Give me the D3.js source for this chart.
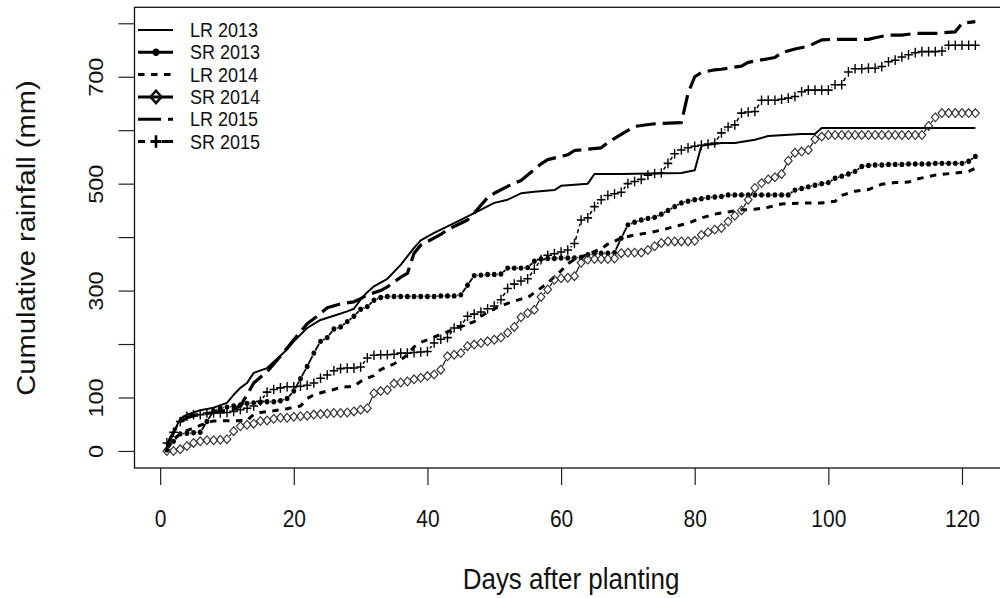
<!DOCTYPE html>
<html>
<head>
<meta charset="utf-8">
<script src="https://cdnjs.cloudflare.com/ajax/libs/d3/7.8.5/d3.min.js"></script>
<style>
  body { margin: 0; background: #fff; }
  svg { font-family: "Liberation Sans", Arial, sans-serif; }
</style>
</head>
<body>
<svg id="chart" width="1000" height="598"></svg>
<script>
// day index for the daily series
const days = d3.range(1, 123);

const xTicks = [0, 20, 40, 60, 80, 100, 120];
const yTicks = [0, 100, 200, 300, 400, 500, 600, 700, 800];
const yLabels = [0, 100, 300, 500, 700];

const seriesNames = ["LR 2013", "SR 2013", "LR 2014", "SR 2014", "LR 2015", "SR 2015"];

// long rains: [day, cumulative mm] at the points where the line bends
const lr2013 = [[1,8],[2,35],[3,60],[4,68],[6,76],[8,81],[10,90],[11,105],[12,118],[13,127],[14,146],[16,155],
  [18,178],[19,190],[20,205],[22,230],[24,245],[26,253],[28,261],[29,266],[30,283],[31,297],[32,308],[34,322],
  [36,348],[38,380],[39,394],[41,408],[44,426],[47,445],[50,464],[52,470],[54,482],[56,485],[59,488],[60,496],
  [64,500],[65,518],[69,518],[78,520],[80,525],[81,571],[84,576],[86,576],[89,582],[91,589],[96,593],[98,593],
  [99,604],[122,604]];

const lr2014 = [[1,5],[2,22],[3,32],[4,38],[5,43],[6,48],[7,53],[8,56],[13,57],[14,68],[15,72],[17,75],[19,79],
  [21,84],[22,98],[23,105],[25,112],[26,115],[27,119],[29,121],[30,130],[31,136],[32,141],[33,152],[35,163],
  [36,170],[37,180],[38,195],[39,203],[40,208],[42,218],[44,228],[46,237],[47,242],[48,252],[50,266],[52,276],
  [54,284],[55,287],[56,296],[58,314],[59,326],[60,337],[61,350],[62,358],[64,368],[66,378],[67,387],[69,398],
  [71,404],[73,408],[75,413],[77,420],[79,426],[81,436],[83,443],[85,447],[87,451],[89,452],[91,456],[93,462],
  [97,464],[99,464],[101,467],[102,478],[104,486],[106,489],[108,499],[110,502],[112,503],[113,508],[116,516],
  [119,520],[121,523],[122,529]];

const lr2015 = [[1,10],[2,35],[3,55],[4,62],[5,66],[7,70],[9,74],[11,78],[12,84],[13,105],[14,127],[15,138],
  [16,148],[18,177],[20,208],[22,238],[24,257],[25,268],[27,275],[29,279],[30,285],[31,292],[33,300],[34,307],
  [36,325],[37,332],[38,370],[39,385],[42,405],[43,414],[46,432],[47,445],[49,474],[50,482],[52,495],[54,506],
  [57,537],[58,545],[61,554],[62,562],[66,567],[67,577],[69,592],[71,607],[74,612],[78,614],[79,669],[80,700],
  [81,708],[83,713],[84,714],[87,720],[88,727],[92,736],[93,745],[95,752],[97,757],[99,769],[101,770],[106,770],
  [107,773],[109,778],[111,778],[113,781],[116,781],[119,784],[120,800],[122,803]];

// short rains: one value per day (days 1..122)
const sr2013 = [2,18,32,33,34,35,55,75,80,82, 84,86,89,90,91,92,92,94,98,112,
  135,158,183,205,212,228,232,242,252,265, 270,282,287,289,289,289,289,289,289,289,
  289,290,290,290,292,310,328,329,330,330, 331,342,342,342,343,355,359,360,360,361,
  361,361,362,367,369,370,370,371,398,423, 428,432,435,437,443,450,457,464,467,470,
  472,474,475,476,479,479,479,479,479,479, 479,479,479,479,488,491,494,497,500,502,
  510,514,518,523,532,534,535,535,536,536, 536,537,537,537,537,538,538,538,538,538,
  542,551];

const sr2014 = [0,0,3,9,15,18,20,20,21,22, 37,46,49,51,56,57,60,62,62,64,
  65,66,68,69,70,71,71,72,74,77, 80,108,112,114,126,128,130,134,137,140,
  143,152,177,180,183,196,199,202,205,208, 212,221,232,250,258,264,288,302,320,323,
  324,327,352,358,359,359,359,360,370,371, 371,371,376,383,389,392,392,392,392,393,
  404,409,414,417,429,440,450,470,492,501, 508,512,518,543,558,560,563,583,588,591,
  591,591,591,591,591,591,591,591,591,591, 591,591,591,591,608,624,632,632,632,632,
  632,632];

const sr2015 = [15,35,55,65,68,68,71,71,71,72, 74,77,80,84,93,110,115,118,120,120,
  121,123,127,136,142,150,154,155,155,157, 174,179,180,180,181,183,183,184,185,186,
  202,209,212,230,234,252,256,260,266,271, 283,304,312,318,322,340,358,366,369,372,
  376,388,432,436,457,470,478,481,484,500, 504,508,516,519,520,538,556,563,567,570,
  572,574,576,595,606,610,632,634,635,656, 656,656,658,660,663,672,675,675,675,675,
  685,685,709,715,715,716,716,719,728,731, 737,741,745,747,747,747,748,759,759,759,
  759,759];

const svg = d3.select("#chart");

const x = d3.scaleLinear().domain([-3.84, 126.84]).range([134.5, 1007.7]);
const y = d3.scaleLinear().domain([-31.9, 829.9]).range([468, 7.3]);

// the source picture is a little taller than wide, so glyphs get a vertical stretch
const SY = 1.12;

const line = d3.line().x(d => x(d[0])).y(d => y(d[1]));
const daily = vals => days.map((d, i) => [d, vals[i]]);

// R type = "b": segments between points, cut back so they stop short of the markers
function gapped(data, gap) {
  let p = "";
  for (let i = 0; i < data.length - 1; i++) {
    const x0 = x(data[i][0]), y0 = y(data[i][1]);
    const x1 = x(data[i + 1][0]), y1 = y(data[i + 1][1]);
    const len = Math.hypot(x1 - x0, y1 - y0);
    if (len <= 2 * gap) continue;
    const ux = (x1 - x0) / len, uy = (y1 - y0) / len;
    p += `M${x0 + ux * gap},${y0 + uy * gap}L${x1 - ux * gap},${y1 - uy * gap}`;
  }
  return p;
}

// axes (R style: ticks outside the box)
const xAxis = svg.append("g")
  .attr("transform", "translate(0,468)")
  .call(d3.axisBottom(x).tickValues(xTicks).tickSize(17).tickFormat(d3.format("d")));
xAxis.select(".domain").remove();
xAxis.selectAll("line").attr("stroke", "#222").attr("stroke-width", 1.2);
xAxis.selectAll("text")
  .attr("x", 0).attr("y", 0).attr("dy", "0.35em")
  .attr("transform", `translate(0,51) scale(1,${SY})`)
  .attr("font-size", 21).attr("fill", "#111")
  .style("font-family", "'Liberation Sans', Arial, sans-serif");

const yAxis = svg.append("g")
  .attr("transform", "translate(134.5,0)")
  .call(d3.axisLeft(y).tickValues(yTicks).tickSize(16)
    .tickFormat(d => yLabels.includes(d) ? d : ""));
yAxis.select(".domain").remove();
yAxis.selectAll("line").attr("stroke", "#222").attr("stroke-width", 1.2);
yAxis.selectAll("text")
  .attr("x", 0).attr("y", 0).attr("dy", "0.35em")
  .attr("text-anchor", "middle")
  .attr("transform", `translate(-39,0) scale(1,${SY}) rotate(-90)`)
  .attr("font-size", 21).attr("fill", "#111")
  .style("font-family", "'Liberation Sans', Arial, sans-serif");

svg.append("text")
  .attr("transform", `translate(571,579) scale(1,${SY})`)
  .attr("dy", "0.35em")
  .attr("text-anchor", "middle").attr("font-size", 26).attr("fill", "#111")
  .text("Days after planting");

svg.append("text")
  .attr("transform", `translate(26,238) scale(1,${SY}) rotate(-90)`)
  .attr("dy", "0.35em")
  .attr("text-anchor", "middle").attr("font-size", 26).attr("fill", "#111")
  .text("Cumulative rainfall (mm)");

// marker shapes
const diamond = s => `M0,${-s}L${s},0L0,${s}L${-s},0Z`;
const plus = s => `M${-s},0H${s}M0,${-s}V${s}`;

const styles = [
  { data: lr2013, dash: null, width: 2, marker: null },
  { data: daily(sr2013), dash: null, width: 1.8, marker: "dot", gap: 3 },
  { data: lr2014, dash: "6.5,6.5", width: 3, marker: null },
  { data: daily(sr2014), dash: null, width: 1.1, marker: "diamond", gap: 4 },
  { data: lr2015, dash: "20,7", width: 3.2, marker: null },
  { data: daily(sr2015), dash: "4,3", width: 1.5, marker: "plus", gap: 4 }
];

function drawMarker(g, kind, cx, cy, big) {
  const t = `translate(${cx},${cy}) scale(1,${SY})`;
  if (kind === "dot") {
    g.append("circle").attr("r", big ? 3.3 : 2.4).attr("transform", t).attr("fill", "#000");
  } else if (kind === "diamond") {
    g.append("path").attr("d", diamond(big ? 5.5 : 3.9)).attr("transform", t)
      .attr("fill", "none").attr("stroke", big ? "#111" : "#333").attr("stroke-width", big ? 2.4 : 1.1);
  } else if (kind === "plus") {
    g.append("path").attr("d", plus(big ? 5.5 : 4.3)).attr("transform", t)
      .attr("fill", "none").attr("stroke", "#000").attr("stroke-width", big ? 2.6 : 1.4);
  }
}

const plot = svg.append("g");
styles.forEach(s => {
  plot.append("path")
    .attr("fill", "none")
    .attr("stroke", "#000")
    .attr("stroke-width", s.width)
    .attr("stroke-dasharray", s.dash)
    .attr("stroke-linejoin", "round")
    .attr("d", s.marker ? gapped(s.data, s.gap) : line(s.data));
  if (s.marker) {
    const mg = plot.append("g");
    s.data.forEach(d => drawMarker(mg, s.marker, x(d[0]), y(d[1]), false));
  }
});

// box
svg.append("rect")
  .attr("x", 134.5).attr("y", 7.3)
  .attr("width", 1007.7 - 134.5).attr("height", 468 - 7.3)
  .attr("fill", "none").attr("stroke", "#111").attr("stroke-width", 1.3);

// legend, top left inside the box, no frame
const legendDash = ["", "", "6.5,6.5", "", "23,7", "7,17,30"];
const legendWidth = [2.2, 3, 3, 3, 3, 3];
const legend = svg.append("g");
seriesNames.forEach((name, i) => {
  const ly = 30 + i * 22.3;
  legend.append("line")
    .attr("x1", 138).attr("x2", 173).attr("y1", ly).attr("y2", ly)
    .attr("stroke", "#000").attr("stroke-width", legendWidth[i])
    .attr("stroke-dasharray", legendDash[i] || null);
  if (styles[i].marker) drawMarker(legend, styles[i].marker, 156, ly, true);
  legend.append("text")
    .attr("transform", `translate(190,${ly}) scale(1,${SY})`)
    .attr("dy", "0.35em")
    .attr("font-size", 18).attr("fill", "#111")
    .text(name);
});
</script>
</body>
</html>
